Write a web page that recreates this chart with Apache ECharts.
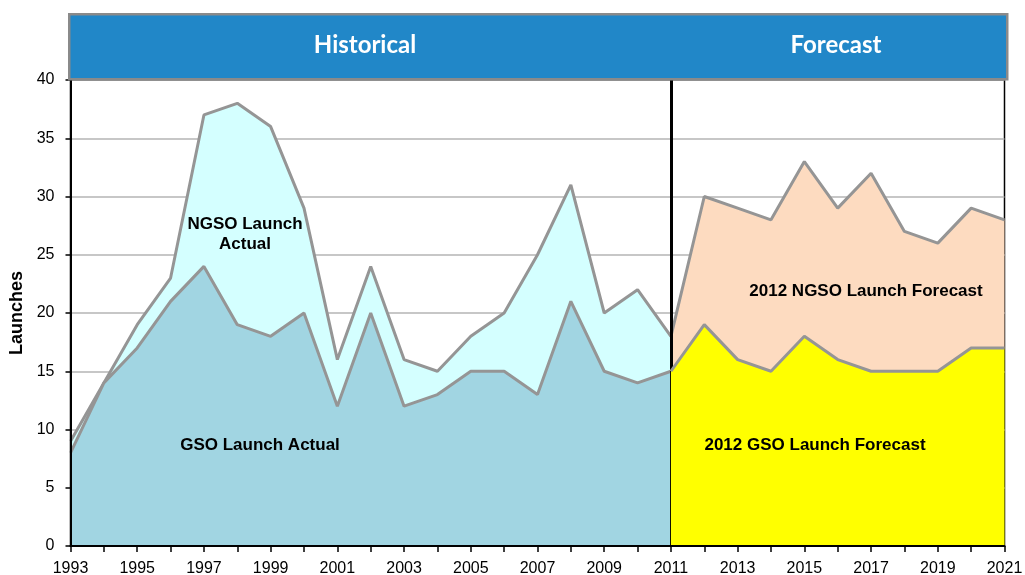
<!DOCTYPE html>
<html>
<head>
<meta charset="utf-8">
<script src="https://cdn.jsdelivr.net/npm/echarts@6/dist/echarts.min.js"></script>
<style>
  html, body { margin: 0; padding: 0; background: #fff; }
  #chart { width: 1025px; height: 575px; }
</style>
</head>
<body>
<div id="chart"></div>
<script>
// Launch years on the horizontal axis
const years = ['1993','1994','1995','1996','1997','1998','1999','2000','2001','2002',
  '2003','2004','2005','2006','2007','2008','2009','2010','2011','2012','2013','2014',
  '2015','2016','2017','2018','2019','2020','2021'];

// Historical launches, 1993-2011
const histYears = ['1993','1994','1995','1996','1997','1998','1999','2000','2001','2002',
  '2003','2004','2005','2006','2007','2008','2009','2010','2011'];
const gsoActual  = [8, 14, 17, 21, 24, 19, 18, 20, 12, 20, 12, 13, 15, 15, 13, 21, 15, 14, 15];
const ngsoActual = [1, 0, 2, 2, 13, 19, 18, 9, 4, 4, 4, 2, 3, 5, 12, 10, 5, 8, 3];

// 2012 forecast, 2011-2021
const fcYears = ['2011','2012','2013','2014','2015','2016','2017','2018','2019','2020','2021'];
const gsoForecast  = [15, 19, 16, 15, 18, 16, 15, 15, 15, 17, 17];
const ngsoForecast = [3, 11, 13, 13, 15, 13, 17, 12, 11, 12, 11];

const yTicks = [0, 5, 10, 15, 20, 25, 30, 35, 40];

// Pair each value with its year so the series sit on the shared category axis
function pairs(ys, vals) { return ys.map((y, i) => [y, vals[i]]); }

const outline = { color: '#959595', width: 3 };
const sans = 'Liberation Sans, Arial, sans-serif';

function areaSeries(name, stack, ys, vals, fill, z) {
  return {
    name: name,
    type: 'line',
    stack: stack,
    data: pairs(ys, vals),
    symbol: 'none',
    lineStyle: outline,
    areaStyle: { color: fill, opacity: 1 },
    z: z,
    silent: true
  };
}

const chart = echarts.init(document.getElementById('chart'));

const labelFont = { fontFamily: sans, fontWeight: 'bold', fontSize: 17, fill: '#000' };

chart.setOption({
  animation: false,
  grid: {
    left: 70.5, right: 20.5, top: 80, bottom: 29,
    outerBoundsMode: 'none',
    containLabel: false,
    show: true, borderColor: '#000', borderWidth: 1.5, backgroundColor: 'transparent'
  },
  xAxis: {
    type: 'category',
    data: years,
    boundaryGap: false,
    axisLine: { lineStyle: { color: '#000', width: 2 } },
    axisTick: { interval: 0, length: 6, lineStyle: { color: '#000', width: 1.5 } },
    axisLabel: { interval: 1, color: '#000', fontSize: 16, margin: 15, fontFamily: sans },
    splitLine: { show: false },
    z: 10
  },
  yAxis: [
    {
      // values, gridlines and title; kept beneath the areas
      type: 'value',
      min: yTicks[0],
      max: yTicks[yTicks.length - 1],
      interval: 5,
      name: 'Launches',
      nameLocation: 'middle',
      nameGap: 43,
      nameRotate: 90,
      nameTextStyle: { color: '#000', fontSize: 18, fontWeight: 'bold', fontFamily: sans },
      axisLine: { show: false },
      axisTick: { show: false },
      axisLabel: { color: '#000', fontSize: 16, margin: 16, fontFamily: sans },
      splitLine: { lineStyle: { color: '#b4b4b4', width: 1.5 } },
      z: 0
    },
    {
      // axis line and ticks drawn above the areas
      type: 'value',
      position: 'left',
      min: yTicks[0],
      max: yTicks[yTicks.length - 1],
      interval: 5,
      axisLine: { show: true, onZero: false, lineStyle: { color: '#000', width: 2 } },
      axisTick: { show: true, length: 5, lineStyle: { color: '#000', width: 1.5 } },
      axisLabel: { show: false },
      splitLine: { show: false },
      z: 10
    }
  ],
  series: [
    areaSeries('GSO Launch Actual', 'hist', histYears, gsoActual, '#a1d5e2', 3),
    areaSeries('NGSO Launch Actual', 'hist', histYears, ngsoActual, '#d4ffff', 2),
    areaSeries('2012 GSO Launch Forecast', 'fc', fcYears, gsoForecast, '#ffff00', 5),
    Object.assign(areaSeries('2012 NGSO Launch Forecast', 'fc', fcYears, ngsoForecast, '#fddbc0', 4), {
      markLine: {
        silent: true,
        symbol: ['none', 'none'],
        label: { show: false },
        lineStyle: { color: '#000', width: 3, type: 'solid' },
        data: [{ xAxis: '2011' }]
      }
    })
  ],
  graphic: [
    // Period banner above the plot
    { type: 'rect', left: 68, top: 13, shape: { width: 938, height: 65 },
      style: { fill: '#2187c8', stroke: '#8a8a8a', lineWidth: 2.5 }, z: 20 },
    { type: 'text', x: 365, y: 45, z: 21,
      style: { text: 'Historical', fill: '#fff', font: 'bold 24px Lato, "Open Sans", sans-serif', textAlign: 'center', textVerticalAlign: 'middle' } },
    { type: 'text', x: 836, y: 45, z: 21,
      style: { text: 'Forecast', fill: '#fff', font: 'bold 24px Lato, "Open Sans", sans-serif', textAlign: 'center', textVerticalAlign: 'middle' } },
    // Area labels
    { type: 'text', x: 245, y: 234, z: 30,
      style: Object.assign({ text: 'NGSO Launch\nActual', textAlign: 'center', textVerticalAlign: 'middle', lineHeight: 20 }, labelFont) },
    { type: 'text', x: 260, y: 445, z: 30,
      style: Object.assign({ text: 'GSO Launch Actual', textAlign: 'center', textVerticalAlign: 'middle' }, labelFont) },
    { type: 'text', x: 866, y: 291, z: 30,
      style: Object.assign({ text: '2012 NGSO Launch Forecast', textAlign: 'center', textVerticalAlign: 'middle' }, labelFont) },
    { type: 'text', x: 815, y: 445, z: 30,
      style: Object.assign({ text: '2012 GSO Launch Forecast', textAlign: 'center', textVerticalAlign: 'middle' }, labelFont) }
  ]
});
</script>
</body>
</html>
